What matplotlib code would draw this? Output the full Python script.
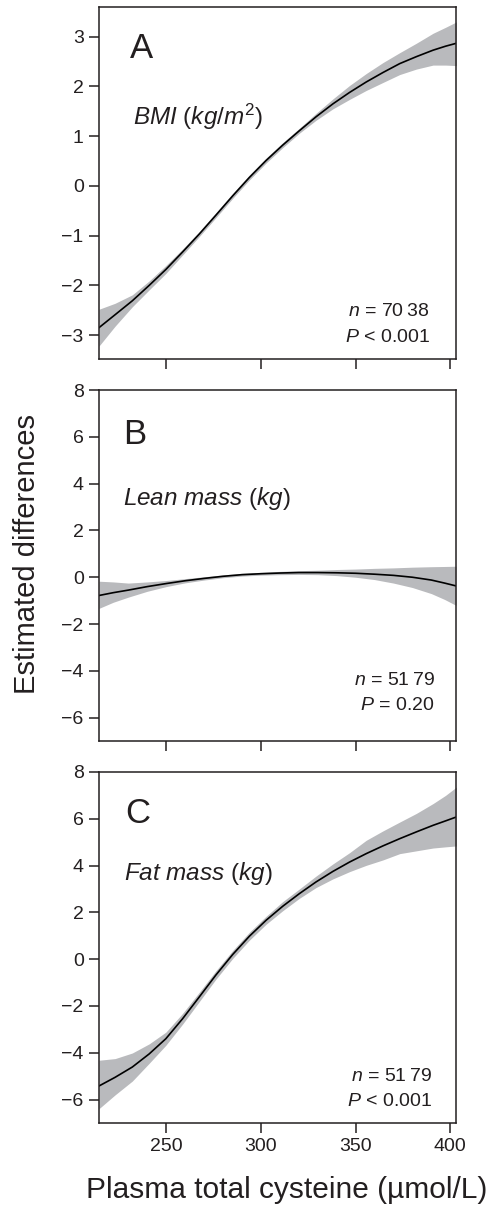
import numpy as np
import matplotlib
matplotlib.use('Agg')
import matplotlib.pyplot as plt

plt.rcParams['font.family'] = ['Liberation Sans', 'DejaVu Sans']
plt.rcParams['mathtext.fontset'] = 'custom'
plt.rcParams['mathtext.rm'] = 'Liberation Sans'
plt.rcParams['mathtext.it'] = 'Liberation Sans:italic'

# panel A: BMI
xa = [214.5, 223, 232.1, 241, 249.8, 258.6, 267.4, 276.2, 285.1, 293.9, 302.7, 311.5, 320.3,
      329.1, 338.0, 346.8, 355.6, 364.4, 373.3, 382.1, 390.9, 397.5, 403.3]
ya = [-2.85, -2.59, -2.31, -2.0, -1.68, -1.33, -0.97, -0.59, -0.20, 0.17, 0.51, 0.82, 1.11,
      1.39, 1.65, 1.88, 2.09, 2.28, 2.46, 2.60, 2.73, 2.81, 2.87]
lo_a = [-3.22, -2.82, -2.43, -2.09, -1.76, -1.39, -1.02, -0.64, -0.25, 0.12, 0.46, 0.77, 1.06,
        1.32, 1.55, 1.74, 1.92, 2.08, 2.24, 2.35, 2.43, 2.43, 2.42]
hi_a = [-2.48, -2.36, -2.19, -1.91, -1.60, -1.27, -0.92, -0.54, -0.15, 0.22, 0.56, 0.87, 1.16,
        1.46, 1.75, 2.02, 2.26, 2.48, 2.68, 2.87, 3.07, 3.19, 3.30]

# panel B: lean mass
xb = [214.5, 222, 230, 240, 250, 260, 270, 280, 290, 300, 310, 320, 330, 340, 350, 360,
      370, 380, 390, 397, 403]
yb = [-0.78, -0.66, -0.55, -0.40, -0.27, -0.15, -0.05, 0.04, 0.11, 0.15, 0.18, 0.20, 0.20,
      0.19, 0.17, 0.13, 0.08, 0.00, -0.12, -0.25, -0.37]
lo_b = [-1.33, -1.07, -0.85, -0.60, -0.40, -0.24, -0.12, -0.02, 0.05, 0.09, 0.11, 0.12, 0.11,
        0.07, 0.00, -0.10, -0.25, -0.44, -0.70, -0.95, -1.20]
hi_b = [-0.17, -0.20, -0.25, -0.20, -0.14, -0.06, 0.02, 0.10, 0.17, 0.21, 0.25, 0.28, 0.30,
        0.33, 0.35, 0.38, 0.40, 0.43, 0.45, 0.46, 0.47]

# panel C: fat mass
xc = [214.5, 223, 232.1, 241, 249.8, 258.6, 267.4, 276.2, 285.1, 293.9, 302.7, 311.5, 320.3,
      329.1, 338.0, 346.8, 355.6, 364.4, 373.3, 382.1, 390.9, 397.5, 403.3]
yc = [-5.42, -5.05, -4.61, -4.05, -3.40, -2.55, -1.62, -0.68, 0.20, 0.98, 1.66, 2.26, 2.80,
      3.30, 3.75, 4.15, 4.51, 4.84, 5.15, 5.44, 5.72, 5.91, 6.08]
lo_c = [-6.39, -5.80, -5.21, -4.45, -3.68, -2.78, -1.82, -0.86, 0.03, 0.81, 1.49, 2.07, 2.60,
        3.06, 3.43, 3.74, 4.01, 4.24, 4.51, 4.63, 4.75, 4.80, 4.84]
hi_c = [-4.32, -4.25, -4.01, -3.62, -3.12, -2.32, -1.42, -0.50, 0.37, 1.15, 1.83, 2.46, 3.00,
        3.55, 4.07, 4.55, 5.08, 5.48, 5.86, 6.23, 6.65, 7.00, 7.36]

xticks = [250, 300, 350, 400]

fig = plt.figure(figsize=(4.93, 12.14), dpi=100)
axA = fig.add_axes([0.2008, 0.7043, 0.7241, 0.2900])
axB = fig.add_axes([0.2008, 0.3896, 0.7241, 0.2891])
axC = fig.add_axes([0.2008, 0.0750, 0.7241, 0.2891])

panels = [
    (axA, xa, ya, lo_a, hi_a, (-3.48, 3.6), [-3, -2, -1, 0, 1, 2, 3]),
    (axB, xb, yb, lo_b, hi_b, (-7, 8), [-6, -4, -2, 0, 2, 4, 6, 8]),
    (axC, xc, yc, lo_c, hi_c, (-7, 8), [-6, -4, -2, 0, 2, 4, 6, 8]),
]
for ax, x, y, lo, hi, ylim, yt in panels:
    ax.fill_between(x, lo, hi, color='#b9babd', lw=0)
    ax.plot(x, y, color='black', lw=1.2)
    ax.set_xlim(214.5, 403)
    ax.set_ylim(*ylim)
    ax.set_yticks(yt)
    ax.set_yticklabels([str(v).replace('-', '\u2212') for v in yt])
    ax.set_xticks(xticks)
    ax.tick_params(direction='out', length=7, width=1.1, labelsize=14,
                   colors='#231f20', pad=4)
    for s in ax.spines.values():
        s.set_linewidth(1.1)
        s.set_color('#231f20')

axA.set_xticklabels([])
axB.set_xticklabels([])

col = '#231f20'
# panel A texts
axA.text(0.087, 0.855, 'A', transform=axA.transAxes, fontsize=25, color=col, va='baseline')
axA.text(0.095, 0.665, r'$\mathit{BMI}$ ($\mathit{kg/m}^{\mathrm{2}}$)', transform=axA.transAxes,
         fontsize=17.5, color=col, va='baseline')
axA.text(0.927, 0.122, r'$\mathit{n}$ = 70' + '\u2009' + '38', transform=axA.transAxes,
         fontsize=14, color=col, ha='right', va='baseline')
axA.text(0.927, 0.048, r'$\mathit{P}$ < 0.001', transform=axA.transAxes,
         fontsize=14, color=col, ha='right', va='baseline')

# panel B texts
axB.text(0.067, 0.846, 'B', transform=axB.transAxes, fontsize=25, color=col, va='baseline')
axB.text(0.067, 0.672, r'$\mathit{Lean\ mass}$ ($\mathit{kg}$)', transform=axB.transAxes,
         fontsize=17.5, color=col, va='baseline')
axB.text(0.941, 0.160, r'$\mathit{n}$ = 51' + '\u2009' + '79', transform=axB.transAxes,
         fontsize=14, color=col, ha='right', va='baseline')
axB.text(0.941, 0.088, r'$\mathit{P}$ = 0.20', transform=axB.transAxes,
         fontsize=14, color=col, ha='right', va='baseline')

# panel C texts
axC.text(0.073, 0.855, 'C', transform=axC.transAxes, fontsize=25, color=col, va='baseline')
axC.text(0.070, 0.692, r'$\mathit{Fat\ mass}$ ($\mathit{kg}$)', transform=axC.transAxes,
         fontsize=17.5, color=col, va='baseline')
axC.text(0.933, 0.120, r'$\mathit{n}$ = 51' + '\u2009' + '79', transform=axC.transAxes,
         fontsize=14, color=col, ha='right', va='baseline')
axC.text(0.933, 0.048, r'$\mathit{P}$ < 0.001', transform=axC.transAxes,
         fontsize=14, color=col, ha='right', va='baseline')

fig.text(0.055, 0.5437, 'Estimated differences', rotation=90, fontsize=21,
         color=col, ha='center', va='center')
fig.text(0.582, 0.0198, 'Plasma total cysteine (\u00b5mol/L)', fontsize=21.5,
         color=col, ha='center', va='center')

fig.savefig('out.png', dpi=100)
